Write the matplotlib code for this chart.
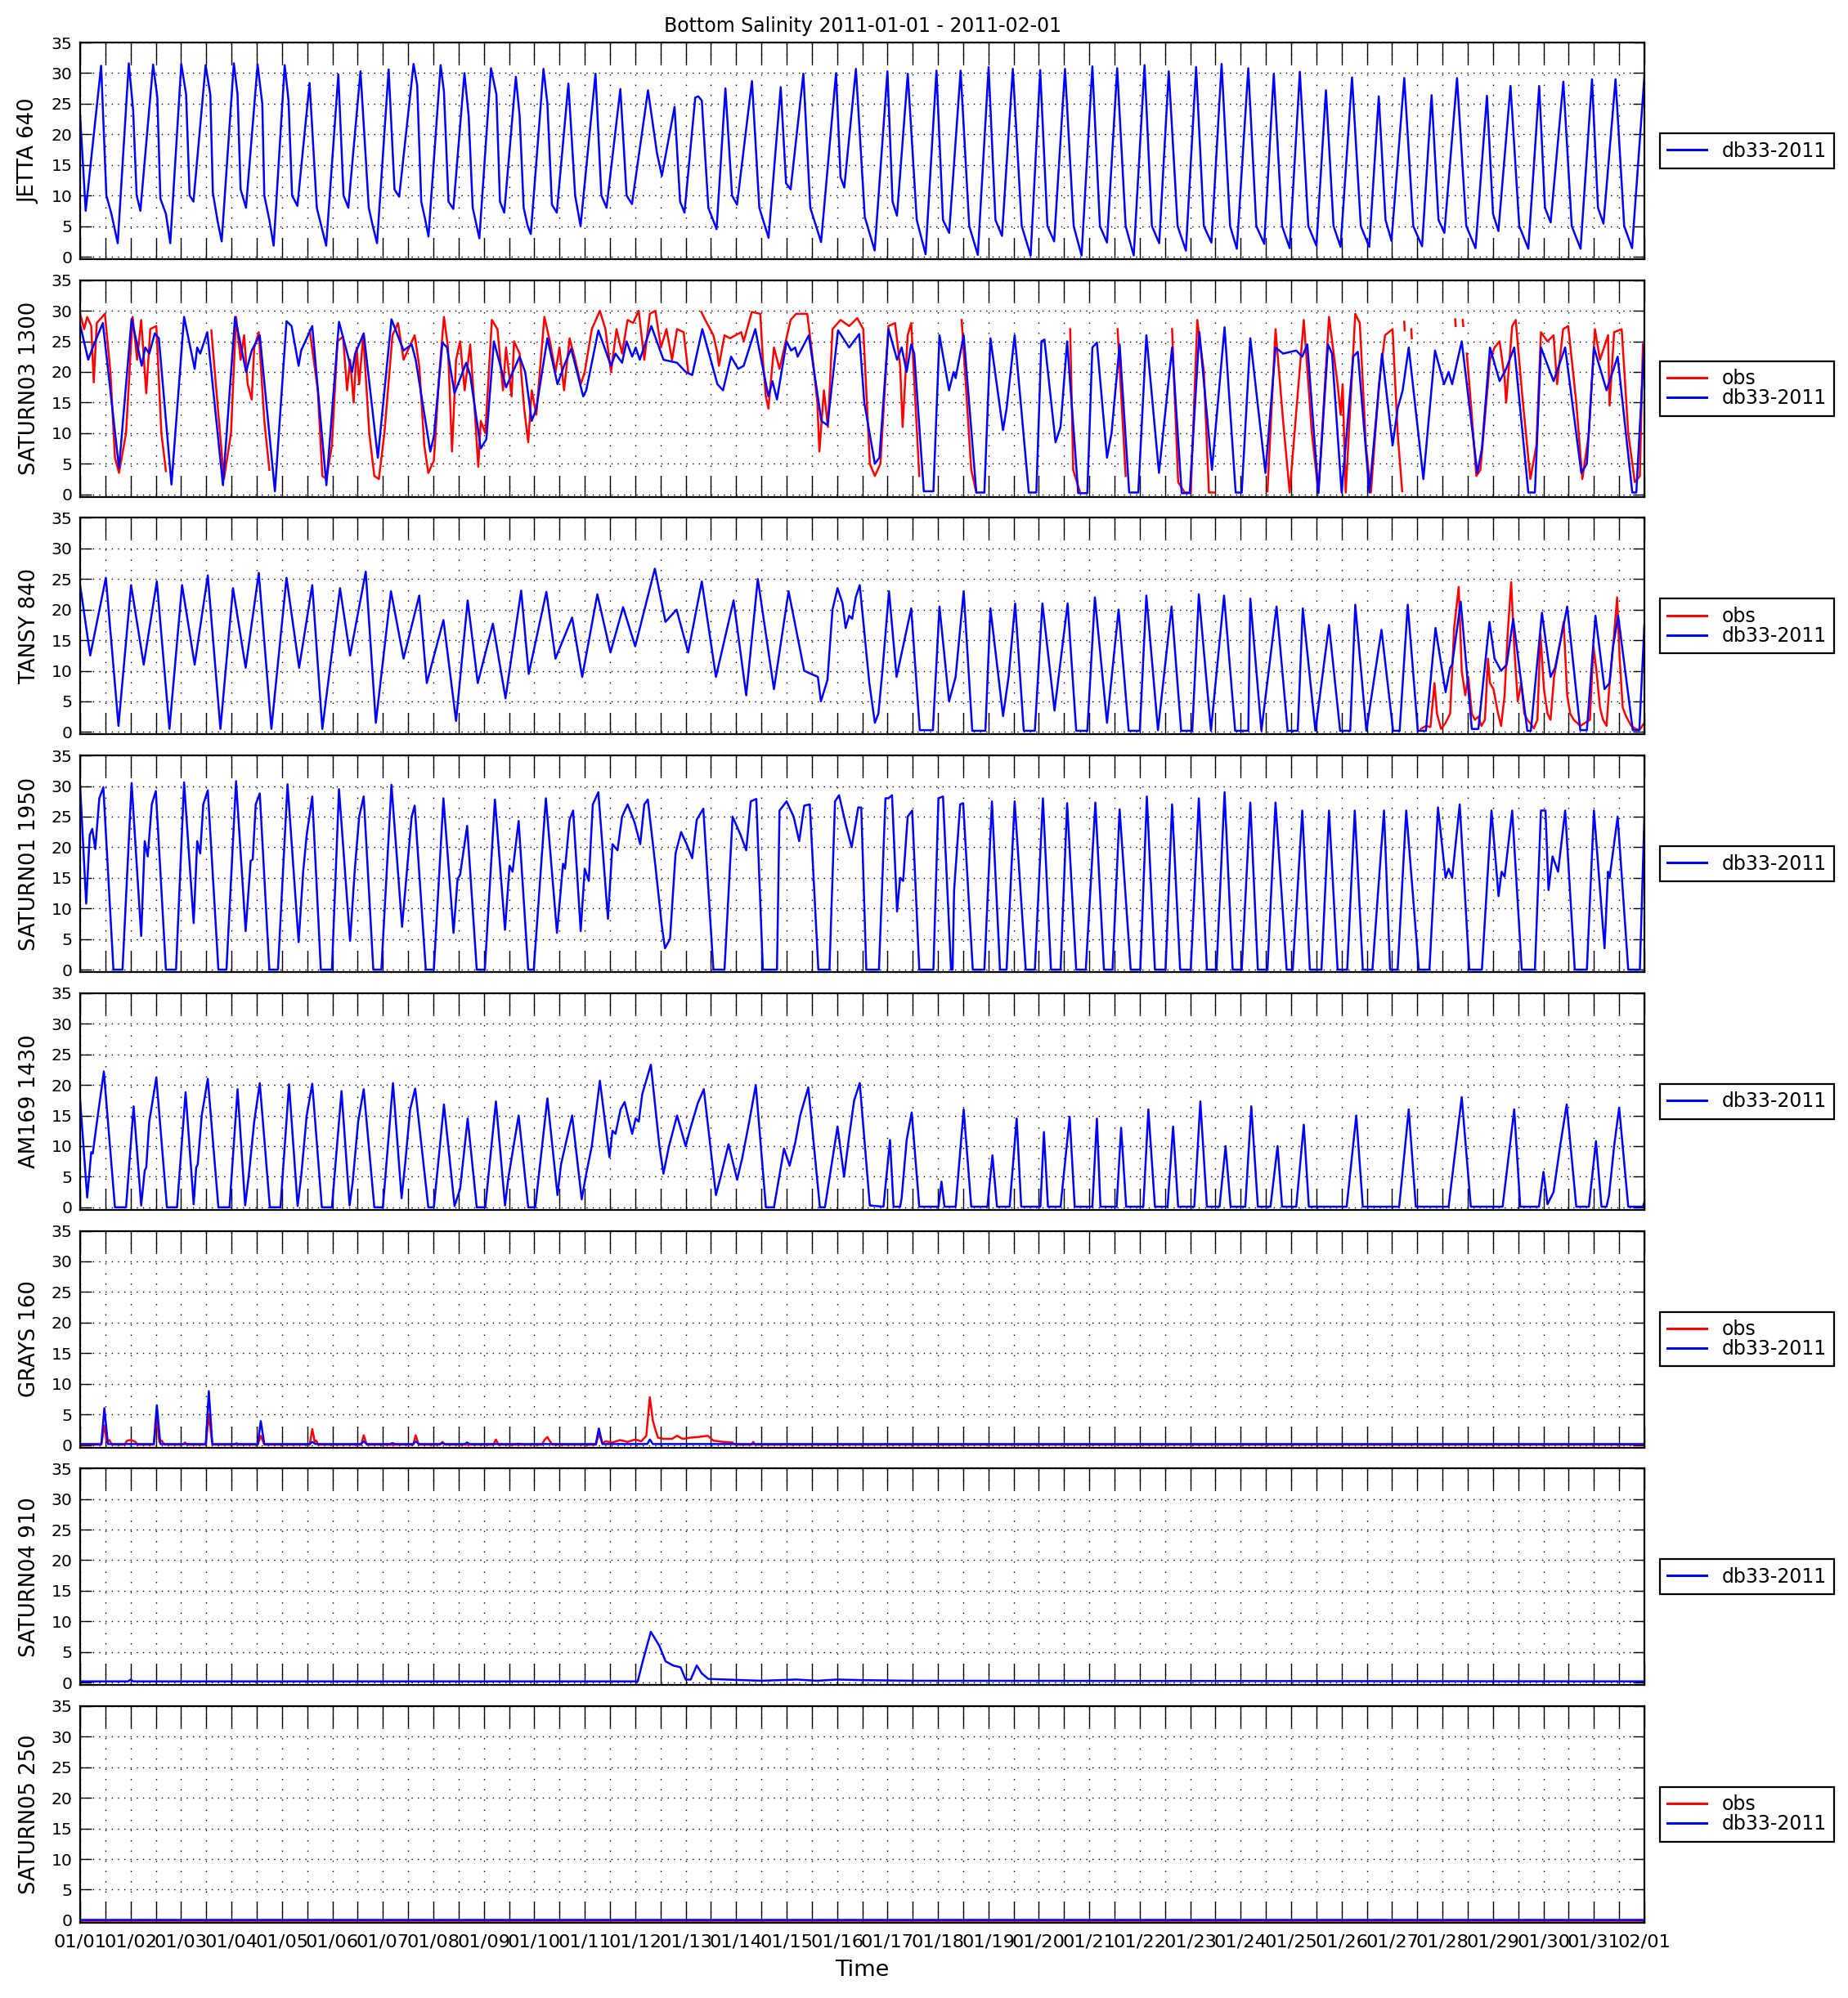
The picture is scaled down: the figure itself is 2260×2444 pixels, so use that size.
import numpy as np
import matplotlib
matplotlib.use("Agg")
import matplotlib.pyplot as plt

nan = np.nan

# ---------------- data (time in days since 2011-01-01 00:00, salinity in psu) -------------
day_labels = ["01/01", "01/02", "01/03", "01/04", "01/05", "01/06", "01/07", "01/08",
              "01/09", "01/10", "01/11", "01/12", "01/13", "01/14", "01/15", "01/16",
              "01/17", "01/18", "01/19", "01/20", "01/21", "01/22", "01/23", "01/24",
              "01/25", "01/26", "01/27", "01/28", "01/29", "01/30", "01/31", "02/01"]
yticks_vals = [0, 5, 10, 15, 20, 25, 30, 35]

station_names = ["JETTA 640", "SATURN03 1300", "TANSY 840", "SATURN01 1950",
                 "AM169 1430", "GRAYS 160", "SATURN04 910", "SATURN05 250"]

# JETTA 640 model
jetta_t = [0.0, 0.11, 0.416, 0.52, 0.62, 0.745, 0.964, 1.05, 1.12, 1.194, 1.446, 1.53, 1.59,
           1.70, 1.786, 2.005, 2.10, 2.17, 2.246, 2.487, 2.58, 2.63, 2.72, 2.805, 3.046, 3.12,
           3.18, 3.287, 3.517, 3.61, 3.65, 3.75, 3.835, 4.054, 4.13, 4.20, 4.306, 4.547, 4.69,
           4.78, 4.876, 5.117, 5.22, 5.315, 5.556, 5.72, 5.80, 5.884, 6.114, 6.23, 6.323, 6.608,
           6.68, 6.76, 6.84, 6.903, 7.144, 7.21, 7.30, 7.396, 7.616, 7.70, 7.78, 7.86, 7.912,
           8.142, 8.25, 8.32, 8.405, 8.635, 8.71, 8.79, 8.87, 8.931, 9.183, 9.26, 9.35, 9.446,
           9.676, 9.81, 9.917, 10.213, 10.33, 10.432, 10.706, 10.83, 10.936, 11.254, 11.43,
           11.528, 11.780, 11.89, 11.977, 12.19, 12.251, 12.32, 12.45, 12.613, 12.788, 12.92,
           13.018, 13.314, 13.46, 13.643, 13.884, 13.99, 14.081, 14.333, 14.47, 14.684, 14.980,
           15.07, 15.144, 15.374, 15.55, 15.746, 15.999, 16.10, 16.188, 16.402, 16.58, 16.755,
           16.970, 17.10, 17.222, 17.449, 17.62, 17.790, 18.004, 18.14, 18.269, 18.484, 18.66,
           18.837, 19.026, 19.17, 19.303, 19.518, 19.69, 19.846, 20.060, 20.21, 20.350, 20.552,
           20.72, 20.880, 21.094, 21.24, 21.385, 21.574, 21.75, 21.914, 22.116, 22.27, 22.419,
           22.621, 22.79, 22.923, 23.150, 23.31, 23.466, 23.655, 23.82, 23.970, 24.172, 24.34,
           24.500, 24.689, 24.84, 24.979, 25.206, 25.38, 25.547, 25.736, 25.87, 25.988, 26.241,
           26.42, 26.594, 26.783, 26.92, 27.036, 27.287, 27.47, 27.654, 27.880, 28.00, 28.107,
           28.347, 28.52, 28.700, 28.915, 29.03, 29.142, 29.394, 29.56, 29.735, 29.962, 30.08,
           30.189, 30.428, 30.60, 30.756, 31.0]
jetta_s = [23, 7.5, 31.2, 10, 7, 2.2, 31.6, 24, 10, 7.5, 31.4, 26, 9.5,
           7, 2.2, 31.5, 26.5, 10, 9, 31.3, 26.5, 10.5, 6, 2.5, 31.6, 26.5,
           11, 8, 31.4, 25, 10, 6, 1.8, 31.3, 25.5, 10, 8.3, 28.4, 8,
           5, 1.8, 29.8, 10, 8, 30.3, 8, 5, 2.2, 30.6, 11, 9.8, 31.5,
           28, 9, 6, 3.3, 31.3, 27, 9, 7.8, 30, 23, 8, 5, 3,
           30.8, 26.5, 9, 7.2, 29.4, 23, 8, 5, 3.7, 30.7, 25, 8.5, 7.2,
           28.3, 10, 5, 29.9, 10, 8, 27.4, 10, 8.6, 27.2, 17,
           13.2, 24.5, 9, 7.2, 26, 26.2, 25.5, 8, 4.5, 27.5, 10,
           8.5, 28.7, 8, 3.1, 27.7, 12, 11, 29.9, 8, 2.4, 30,
           13, 11.3, 30.7, 6.5, 1.0, 30.3, 9, 6.7, 29.9, 6, 0.4,
           30.4, 6, 3.9, 30.4, 5, 0.3, 31.0, 6, 3.4, 30.7, 5,
           0.2, 30.5, 5, 2.5, 30.7, 5, 0.2, 31.1, 5, 2.3, 30.8,
           5, 0.2, 31.3, 5, 2.2, 30.3, 5, 1.0, 31.0, 5, 2.3,
           31.5, 5, 1.3, 30.8, 5, 2.1, 29.9, 5, 1.4, 30.2, 5,
           1.8, 27.2, 5, 1.6, 29.3, 5, 1.6, 26.2, 6, 2.6, 29.2,
           5, 1.7, 26.4, 6, 3.9, 29.2, 5, 1.4, 26.3, 7, 4.2,
           27.9, 5, 1.3, 27.9, 8, 5.6, 28.6, 5, 1.3, 29.0, 8,
           5.4, 29.0, 5, 1.4, 29.5]

# SATURN03 1300 model
sat03_t = [0.0, 0.16, 0.25, 0.45, 0.77, 1.02, 1.22, 1.29, 1.37, 1.48, 1.56, 1.81, 2.06, 2.27,
           2.32, 2.38, 2.52, 2.83, 3.07, 3.29, 3.40, 3.56, 3.86, 4.09, 4.19, 4.33, 4.38, 4.60,
           4.88, 5.13, 5.39, 5.45, 5.62, 5.90, 6.17, 6.41, 6.57, 6.65, 6.94, 7.01, 7.18, 7.27,
           7.42, 7.65, 7.73, 7.94, 8.05, 8.20, 8.44, 8.71, 8.82, 8.95, 9.04, 9.26, 9.46, 9.59,
           9.73, 9.97, 10.03, 10.27, 10.52, 10.61, 10.74, 10.83, 10.94, 11.01, 11.09, 11.32,
           11.56, 11.83, 12.00, 12.13, 12.33, 12.63, 12.74, 12.90, 13.04, 13.15, 13.38, 13.64,
           13.72, 13.81, 14.00, 14.09, 14.17, 14.22, 14.44, 14.69, 14.81, 15.02, 15.24, 15.44,
           15.54, 15.75, 15.84, 16.02, 16.19, 16.28, 16.38, 16.47, 16.53, 16.72, 16.91, 17.03,
           17.22, 17.31, 17.35, 17.51, 17.76, 17.92, 18.04, 18.29, 18.36, 18.52, 18.80, 18.95,
           19.05, 19.11, 19.33, 19.43, 19.56, 19.78, 19.96, 20.06, 20.15, 20.35, 20.44, 20.60,
           20.79, 20.97, 21.13, 21.38, 21.64, 21.83, 21.99, 22.18, 22.43, 22.68, 22.90, 23.02,
           23.19, 23.49, 23.69, 23.84, 24.10, 24.22, 24.32, 24.54, 24.73, 24.81, 25.00, 25.23,
           25.32, 25.55, 25.80, 26.01, 26.11, 26.21, 26.33, 26.62, 26.85, 27.03, 27.12, 27.19,
           27.38, 27.69, 27.78, 27.94, 28.13, 28.26, 28.42, 28.70, 28.83, 28.95, 29.20, 29.43,
           29.75, 29.86, 30.00, 30.25, 30.47, 30.76, 30.84, 31.0]
sat03_s = [27.7, 22, 24, 28, 4.3, 28.7, 21, 24, 23, 26.3, 25.5, 1.6, 29, 20.5,
           24, 23, 26.5, 1.5, 29, 20, 23.5, 26, 0.5, 28.3, 27.5, 21, 23.5, 27.5,
           1.5, 28.2, 20, 23, 26.3, 6, 28.6, 23.5, 24.5, 22, 7, 9.5, 24.8, 24,
           16.5, 21.5, 19.5, 7.5, 9, 25, 17.5, 22.5, 20, 12, 14, 25.5, 18, 21,
           23.8, 16, 17, 26.8, 21, 23, 21.5, 25, 22.5, 24, 22, 27.5,
           22, 21.5, 20, 19.5, 27, 18, 17, 22.5, 20.5, 21, 27, 16,
           18.5, 15.5, 25, 23.5, 24, 22.5, 26, 12, 11.3, 26.8, 24, 26.2,
           15, 5, 6, 27, 22, 24, 20, 24.5, 23, 0.5, 0.5, 26,
           17, 20, 19, 26, 0.3, 0.3, 25.5, 10.5, 14, 26, 0.3, 0.3,
           25, 25.3, 8.5, 11, 25, 0.2, 0.2, 24, 24.8, 6, 10, 24.5,
           0.3, 0.3, 26, 3.5, 24, 0.2, 0.2, 26.5, 4, 27.3, 0.3, 0.3,
           25.5, 3.5, 24, 23, 23.5, 22.5, 24.5, 0.2, 24.5, 23, 0.3, 22.5,
           23.3, 0.3, 23, 8, 14, 17, 24, 2.5, 23.5, 18, 20, 18,
           25, 3.5, 7.5, 24, 18.5, 20.5, 24, 0.3, 0.3, 24, 18.5, 24,
           3.5, 5, 24, 17, 22.5, 0.3, 0.3, 25]

# SATURN03 1300 observations (nan = gap)
sat03_obs_t = [0.0, 0.08, 0.14, 0.22, 0.27, 0.33, 0.49, 0.60, 0.69, 0.77, 0.91, 1.04, 1.13,
               1.21, 1.28, 1.31, 1.39, 1.51, 1.61, 1.70, 1.71,
               2.59, 2.60, 2.72, 2.85, 2.99, 3.09, 3.18, 3.25, 3.32, 3.40, 3.45, 3.54, 3.65, 3.75, 3.76,
               4.54, 4.55, 4.71, 4.80, 4.88, 4.99, 5.10, 5.21, 5.29, 5.35, 5.42, 5.48, 5.53, 5.61,
               5.73, 5.83, 5.92, 6.03, 6.19, 6.30, 6.41, 6.52, 6.63, 6.72, 6.82, 6.90, 7.01, 7.12,
               7.21, 7.29, 7.37, 7.45, 7.53, 7.62, 7.73, 7.81, 7.89, 7.94, 8.03, 8.16, 8.27, 8.38,
               8.44, 8.55, 8.60, 8.71, 8.80, 8.88, 8.95, 9.04, 9.20, 9.31, 9.42, 9.50, 9.59, 9.70,
               9.81, 9.92, 10.00, 10.14, 10.30, 10.41, 10.52, 10.63, 10.74, 10.85, 10.96, 11.07,
               11.18, 11.29, 11.40, 11.51, 11.62, 11.73, 11.83, 11.96, 12.05, 12.06,
               12.30, 12.31, 12.42, 12.55, 12.63, 12.66, 12.77, 12.88, 13.10, 13.15, 13.31, 13.48,
               13.53, 13.59, 13.64, 13.75, 13.86, 14.08, 14.19, 14.41, 14.52, 14.61, 14.65, 14.74,
               14.82, 14.91, 15.07, 15.24, 15.40, 15.52, 15.65, 15.75, 15.86, 16.02, 16.15, 16.25,
               16.30, 16.40, 16.47, 16.63, 16.64,
               17.46, 17.47, 17.66, 17.76, 17.77,
               19.61, 19.62, 19.68, 19.81, 19.82,
               20.55, 20.56, 20.72, 20.73,
               21.63, 21.64, 21.76, 21.89, 22.01, 22.14, 22.27, 22.37, 22.48, 22.49,
               23.52, 23.53, 23.69, 23.84, 23.97, 24.25, 24.41, 24.54, 24.75, 24.92, 24.98, 25.02,
               25.08, 25.27, 25.36, 25.48, 25.58, 25.74, 25.86, 26.01, 26.11, 26.20, 26.21,
               26.24, 26.25, 26.26, 26.38, 26.39, 26.40, 27.25, 27.26, 27.27, 27.40, 27.41, 27.42,
               27.48, 27.56, 27.67, 27.75, 27.94, 28.03, 28.13, 28.23, 28.26, 28.38, 28.45, 28.57,
               28.74, 28.86, 28.95, 29.08, 29.20, 29.27, 29.39, 29.49, 29.65, 29.77, 29.90, 30.02,
               30.12, 30.28, 30.31, 30.40, 30.55, 30.68, 30.81, 30.91, 30.97]
sat03_obs_s = [29.5, 27, 29, 27.5, 18.3, 28, 29.5, 20, 6, 3.5, 10, 29, 22,
               28.5, 20, 16.5, 27, 27.5, 10, 3.8, nan,
               nan, 26.8, 15, 2.5, 10, 29, 22, 26, 18, 15.5, 24, 26.5, 12, 4, nan,
               nan, 26.8, 17, 3, 2.5, 8, 25, 25.8, 17, 22, 15, 24, 18, 26,
               10, 3, 2.5, 10, 26, 28, 22, 24, 26, 21, 8, 3.5, 5.5, 20,
               29, 24, 7, 22, 25, 17, 24.5, 15, 4.5, 12, 10, 28.5, 27, 17,
               24, 16, 25, 23, 14, 8.5, 17, 13, 29, 25, 20, 24, 17, 25.5,
               22, 18, 20, 27, 30, 27, 20, 27, 23, 28.5, 28, 30,
               22, 29.5, 30, 24, 27, 22, 27, 26.5, 20, nan,
               nan, 29.8, 28, 26, 23, 21, 26, 25.5, 26.5, 25, 29.8, 29.5,
               22, 16, 14, 24, 20.5, 28.5, 29.5, 29.5, 22, 15, 7, 17,
               11, 27, 28.5, 27.5, 28.8, 27, 5, 3, 5, 27.5, 28, 21,
               11, 26, 28, 3, nan,
               nan, 28.5, 4, 0.3, nan,
               nan, 27, 4, 0.5, nan,
               nan, 27, 3, nan,
               nan, 27, 2, 0.3, 0.3, 28.5, 20, 0.3, 0.3, nan,
               nan, 0.5, 27, 12, 0.3, 28.5, 10, 0.3, 29, 18, 13, 18,
               0.3, 29.5, 28, 8, 0.3, 18, 26, 27, 10, 0.5, nan,
               28.2, 26.8, nan, 27, 25.5, nan, 28.6, 27.5, nan, 28.5, 27.5, nan,
               23, 15, 3, 4, 22, 24, 25, 19, 15, 27.5, 28.5, 17,
               2.5, 8, 26.5, 25, 26, 18, 27, 27.5, 15, 2.5, 10, 27,
               22, 26, 14.5, 26.5, 27, 10, 2, 3, 24.5]

# TANSY 840 model
tansy_t = [0.0, 0.20, 0.51, 0.76, 1.01, 1.26, 1.52, 1.77, 2.02, 2.27, 2.53, 2.78, 3.03, 3.28,
           3.54, 3.79, 4.09, 4.34, 4.60, 4.80, 5.15, 5.35, 5.66, 5.86, 6.16, 6.41, 6.72, 6.87,
           7.20, 7.45, 7.68, 7.88, 8.18, 8.43, 8.74, 8.89, 9.24, 9.42, 9.75, 9.95, 10.25, 10.51,
           10.76, 11.0, 11.39, 11.60, 11.82, 12.05, 12.32, 12.60, 12.95, 13.20, 13.43, 13.75,
           14.04, 14.35, 14.62, 14.68, 14.81, 14.91, 15.01, 15.11, 15.17, 15.24, 15.30, 15.37,
           15.45, 15.64, 15.75, 15.82, 15.90, 16.03, 16.18, 16.47, 16.64, 16.90, 17.03, 17.22,
           17.35, 17.51, 17.68, 17.94, 18.04, 18.29, 18.40, 18.53, 18.70, 18.92, 19.07, 19.31,
           19.57, 19.74, 19.96, 20.11, 20.35, 20.58, 20.78, 21.00, 21.13, 21.36, 21.63, 21.82,
           22.04, 22.17, 22.41, 22.67, 22.89, 23.15, 23.19, 23.41, 23.71, 23.93, 24.13, 24.23,
           24.48, 24.75, 24.97, 25.17, 25.27, 25.49, 25.79, 26.02, 26.15, 26.31, 26.51, 26.67,
           26.86, 27.06, 27.15, 27.19, 27.36, 27.58, 27.71, 27.93, 28.03, 28.16, 28.27, 28.40,
           28.68, 28.75, 28.97, 29.14, 29.23, 29.40, 29.47, 29.73, 29.86, 30.03, 30.21, 30.31,
           30.38, 30.48, 30.77, 30.90, 31.0]
tansy_s = [24, 12.5, 25.2, 1, 24, 11, 24.6, 0.5, 24, 11, 25.6, 0.5, 23.5, 10.5,
           26, 0.5, 25.2, 10.5, 24, 0.5, 23.5, 12.5, 26.2, 1.5, 23, 12, 22.3, 8,
           18.3, 1.8, 21.5, 8, 17.7, 5.5, 23.1, 9.5, 22.9, 12, 18.7, 9, 22.5, 13,
           20.4, 14, 26.7, 18, 20, 13, 24.6, 9, 21.5, 6, 25, 7,
           23, 10, 9, 5, 8.5, 20, 23.5, 21, 17, 19, 18.5, 22,
           24, 8, 1.5, 3, 10, 23, 9, 20.2, 0.3, 0.3, 20.5, 5,
           9, 23, 0.2, 0.2, 20.2, 2.6, 9, 21, 0.2, 0.2, 21, 3.5,
           21, 0.2, 0.2, 22, 1.5, 20, 0.2, 0.2, 22.3, 0.3, 20.5, 0.2,
           0.2, 22.5, 0.2, 22.3, 0.2, 0.2, 21.8, 0.2, 20.5, 0.2, 0.2, 20.2,
           0.2, 17.5, 0.2, 0.2, 20.8, 0.2, 16.7, 0.2, 0.2, 20.8, 0.2, 0.2,
           17, 6.5, 10.5, 11, 21.3, 0.5, 0.5, 18, 12, 10, 11, 18.5,
           0.2, 0.2, 19.5, 9, 10.5, 17.5, 20.5, 0.3, 0.3, 19, 7, 8,
           14, 19, 0.3, 0.3, 17.5]

# TANSY 840 observations
tansy_obs_t = [26.57, 26.67, 26.76, 26.84, 26.89, 26.97, 27.06, 27.15, 27.23, 27.32, 27.38,
               27.45, 27.51, 27.58, 27.64, 27.71, 27.77, 27.84, 27.90, 27.94, 28.01, 28.10, 28.16,
               28.23, 28.29, 28.36, 28.42, 28.49, 28.56, 28.62, 28.68, 28.75, 28.81, 28.88, 28.94,
               29.01, 29.08, 29.14, 29.21, 29.40, 29.47, 29.53, 29.60, 29.73, 29.92, 29.99, 30.05,
               30.12, 30.18, 30.25, 30.31, 30.40, 30.46, 30.51, 30.57, 30.64, 30.74, 30.83, 30.90,
               31.0]
tansy_obs_s = [0.5, 1, 0.8, 8, 3, 0.5, 1.5, 3, 17, 23.7, 10,
               6, 9, 3, 2, 2.5, 1, 2, 12, 8, 7, 3, 1,
               6, 16, 24.5, 14, 5, 8, 3, 2, 1.3, 0.6, 2, 16,
               7, 3, 2, 9, 18, 6, 3, 2, 1, 2, 14, 10,
               4, 2, 1, 8, 16, 22, 12, 4, 2.5, 1, 0.5, 0.3,
               1.5]

# SATURN01 1950 model
sat01_t = [0.0, 0.12, 0.19, 0.24, 0.30, 0.38, 0.46, 0.66, 0.84, 1.02, 1.21, 1.28, 1.34, 1.42,
           1.50, 1.70, 1.90, 2.06, 2.25, 2.32, 2.38, 2.44, 2.53, 2.74, 2.90, 3.09, 3.28, 3.38,
           3.42, 3.48, 3.56, 3.75, 3.92, 4.11, 4.33, 4.42, 4.49, 4.60, 4.77, 4.99, 5.13, 5.35,
           5.44, 5.53, 5.62, 5.81, 5.97, 6.17, 6.38, 6.49, 6.57, 6.63, 6.85, 7.01, 7.20, 7.40,
           7.48, 7.53, 7.67, 7.86, 8.02, 8.22, 8.42, 8.51, 8.57, 8.69, 8.88, 8.99, 9.23, 9.45,
           9.57, 9.61, 9.70, 9.77, 9.92, 10.00, 10.08, 10.16, 10.27, 10.46, 10.55, 10.65, 10.74,
           10.85, 10.99, 11.10, 11.18, 11.25, 11.40, 11.53, 11.59, 11.69, 11.80, 11.91, 12.02,
           12.13, 12.22, 12.35, 12.55, 12.77, 12.93, 13.09, 13.20, 13.29, 13.40, 13.53, 13.81,
           13.86, 14.00, 14.14, 14.25, 14.35, 14.46, 14.63, 14.85, 14.96, 15.04, 15.18, 15.29,
           15.42, 15.48, 15.58, 15.83, 15.96, 16.02, 16.09, 16.19, 16.25, 16.31, 16.40, 16.49,
           16.63, 16.91, 17.01, 17.10, 17.26, 17.29, 17.32, 17.44, 17.50, 17.69, 17.92, 18.07,
           18.23, 18.36, 18.52, 18.74, 18.92, 19.08, 19.24, 19.43, 19.56, 19.74, 19.93, 20.12,
           20.29, 20.46, 20.60, 20.82, 21.01, 21.14, 21.30, 21.51, 21.64, 21.80, 22.01, 22.17,
           22.33, 22.52, 22.68, 22.84, 23.02, 23.19, 23.34, 23.53, 23.69, 23.91, 24.03, 24.22,
           24.37, 24.60, 24.75, 24.92, 25.11, 25.26, 25.42, 25.61, 25.84, 25.96, 26.11, 26.28,
           26.53, 26.74, 26.91, 27.06, 27.12, 27.19, 27.34, 27.53, 27.78, 27.97, 28.11, 28.17,
           28.23, 28.38, 28.57, 28.83, 28.95, 29.04, 29.10, 29.18, 29.29, 29.43, 29.62, 29.86,
           30.00, 30.21, 30.28, 30.31, 30.47, 30.68, 30.91, 31.0]
sat01_s = [30, 10.8, 22, 23, 19.7, 28, 29.8, 0, 0, 30.5, 5.5, 21, 18.5, 27,
           29.2, 0, 0, 30.6, 7.6, 21, 19, 27, 29.3, 0, 0, 30.8, 6.3, 17.8,
           18, 27, 28.8, 0, 0, 30.3, 4.5, 16, 22, 28.3, 0, 0, 29.5, 4.7,
           16, 25, 28.3, 0, 0, 30.2, 7, 17.5, 25, 26.8, 0, 0, 28, 6,
           14.8, 15.5, 23.5, 0, 0, 27.8, 6.5, 17, 16, 24.3, 0, 0, 28, 6,
           17.3, 16.5, 24.5, 26, 6.3, 16.5, 14.5, 27, 29, 8.3, 20.5, 19.5, 25,
           27, 24, 20.5, 27, 27.8, 17, 7, 3.5, 5, 19, 22.5, 20.5,
           18.2, 24.5, 26.3, 0, 0, 25, 22, 19.5, 27.5, 27.9, 0, 0,
           26, 27.5, 25, 21, 26.8, 27, 0, 0, 27.5, 28.5, 23.5, 20,
           26.5, 26.5, 0, 0, 28, 28, 28.5, 9.5, 15, 14.5, 25, 26,
           0, 0, 28, 28.3, 0, 0, 13, 27, 27.2, 0, 0, 27.5,
           0, 0, 27.5, 0, 0, 28, 0, 0, 27.2, 0, 0, 27.3,
           0, 0, 26.2, 0, 0, 28.3, 0, 0, 27, 0, 0, 28,
           0, 0, 29, 0, 0, 27.3, 0, 0, 27.3, 0, 0, 26,
           0, 0, 26, 0, 0, 26, 0, 0, 26, 0, 0, 26,
           0, 0, 26.5, 15, 16.5, 15, 27, 0, 0, 26, 12, 16,
           15.2, 26, 0, 0, 26, 26, 13, 18.5, 16, 26, 0, 0,
           26, 3.5, 16, 15, 25, 0, 0, 25]

# AM169 1430 model
am169_t = [0.0, 0.14, 0.22, 0.25, 0.35, 0.47, 0.69, 0.91, 1.06, 1.21, 1.28, 1.31, 1.37, 1.51,
           1.72, 1.92, 2.09, 2.25, 2.30, 2.33, 2.41, 2.53, 2.74, 2.96, 3.12, 3.27, 3.34, 3.45,
           3.56, 3.76, 3.97, 4.14, 4.31, 4.38, 4.49, 4.60, 4.79, 4.99, 5.18, 5.34, 5.40, 5.51,
           5.62, 5.83, 6.00, 6.20, 6.37, 6.44, 6.54, 6.64, 6.90, 7.01, 7.21, 7.42, 7.53, 7.68,
           7.86, 8.03, 8.24, 8.42, 8.49, 8.69, 8.88, 9.02, 9.26, 9.46, 9.53, 9.75, 9.94, 10.03,
           10.14, 10.30, 10.49, 10.55, 10.61, 10.71, 10.79, 10.94, 11.01, 11.07, 11.14, 11.31,
           11.48, 11.56, 11.67, 11.83, 12.00, 12.08, 12.24, 12.36, 12.60, 12.71, 12.85, 13.02,
           13.12, 13.26, 13.39, 13.59, 13.75, 13.95, 14.06, 14.17, 14.27, 14.43, 14.66, 14.76,
           15.01, 15.14, 15.23, 15.34, 15.45, 15.65, 15.92, 16.05, 16.12, 16.25, 16.28, 16.38,
           16.48, 16.63, 17.01, 17.07, 17.13, 17.35, 17.51, 17.66, 17.98, 18.08, 18.17, 18.42,
           18.56, 18.65, 19.03, 19.10, 19.18, 19.43, 19.61, 19.71, 20.06, 20.15, 20.22, 20.54,
           20.63, 20.73, 21.07, 21.17, 21.30, 21.55, 21.66, 21.76, 22.08, 22.20, 22.33, 22.58,
           22.70, 22.80, 23.09, 23.21, 23.34, 23.59, 23.73, 23.82, 24.10, 24.25, 24.35, 25.10,
           25.29, 25.42, 26.14, 26.33, 26.47, 27.12, 27.38, 27.56, 28.19, 28.42, 28.54, 28.91,
           29.00, 29.08, 29.20, 29.33, 29.46, 29.65, 29.90, 30.04, 30.15, 30.25, 30.30, 30.40,
           30.50, 30.68, 30.97, 31.0]
am169_s = [17.5, 1.6, 9, 8.8, 15, 22.2, 0, 0, 16.5, 0.3, 6, 6.5, 14, 21.2,
           0, 0, 18.8, 0.5, 6.5, 7, 15, 21, 0, 0, 19.3, 0.3, 5, 14,
           20.3, 0, 0, 20.1, 0.2, 5, 15, 20.2, 0, 0, 19, 0.3, 4, 14,
           19.3, 0, 0, 20.3, 1.5, 7, 16, 19.4, 0, 0, 16.8, 0.2, 3, 14.5,
           0, 0, 17.3, 0.3, 5, 15, 0, 0, 17.8, 2, 7, 15, 1.3, 5.5,
           10, 20.7, 8.2, 12.5, 12, 16, 17.2, 12, 14.5, 14, 18.5, 23.3,
           10, 5.5, 10, 15, 10, 12.5, 17, 19.3, 2, 5.5, 10.3, 4.5,
           8, 14, 20, 0, 0, 9.6, 6.8, 10.5, 15, 19.6, 0, 0,
           13.2, 5, 11, 17.5, 20.3, 0.3, 0.1, 11, 0.1, 0.1, 1.5, 11,
           15.5, 0.1, 0.1, 4.2, 0.1, 0.1, 16, 0.1, 0.1, 8.5, 0.1, 0.1,
           14.5, 0.1, 0.1, 12.3, 0.1, 0.1, 14.8, 0.1, 0.1, 14.5, 0.1, 0.1,
           13, 0.1, 0.1, 16, 0.1, 0.1, 13.2, 0.1, 0.1, 17.3, 0.1, 0.1,
           10, 0.1, 0.1, 16.5, 0.1, 0.1, 10, 0.1, 0.1, 13.5, 0.1, 0.1,
           15, 0.1, 0.1, 16, 0.1, 0.1, 18, 0.1, 0.1, 16, 0.1, 0.1,
           5.8, 0.5, 2.5, 10, 16.8, 0.1, 0.1, 10.8, 0.1, 0.1, 2, 10,
           16.3, 0.1, 0.1, 0.8]

# GRAYS 160 model and observations
grays_t = [0.0, 0.42, 0.48, 0.55, 1.46, 1.52, 1.59, 2.49, 2.55, 2.62, 3.52, 3.58, 3.65,
           4.55, 4.60, 4.66, 5.57, 5.62, 5.68, 6.14, 6.19, 6.24, 6.60, 6.65, 6.71, 7.13, 7.18,
           7.23, 7.62, 7.67, 7.72, 8.63, 8.68, 8.73, 10.22, 10.28, 10.35, 11.24, 11.29, 11.35,
           31.0]
grays_s = [0.15, 0.15, 6.0, 0.15, 0.15, 6.5, 0.15, 0.15, 8.8, 0.15, 0.15, 3.9, 0.15,
           0.15, 0.5, 0.15, 0.15, 0.6, 0.15, 0.15, 0.3, 0.15, 0.15, 0.6, 0.15, 0.15, 0.3,
           0.15, 0.15, 0.4, 0.15, 0.15, 0.2, 0.15, 0.15, 2.7, 0.15, 0.15, 0.9, 0.15,
           0.15]
grays_obs_t = [0.0, 0.42, 0.48, 0.53, 0.58, 0.63, 0.88, 0.93, 1.0, 1.08, 1.15, 1.46, 1.52,
               1.57, 1.62, 1.67, 2.03, 2.08, 2.13, 2.49, 2.55, 2.62, 3.06, 3.10, 3.14, 3.52,
               3.58, 3.65, 4.55, 4.60, 4.65, 4.68, 4.72, 5.57, 5.62, 5.68, 6.60, 6.65, 6.71,
               7.13, 7.18, 7.23, 8.19, 8.24, 8.29, 9.15, 9.20, 9.26, 9.31, 9.36, 10.22, 10.28,
               10.35, 10.41, 10.55, 10.70, 10.85, 11.0, 11.12, 11.22, 11.29, 11.35, 11.40,
               11.45, 11.56, 11.73, 11.83, 11.94, 12.10, 12.25, 12.44, 12.55, 12.75, 12.93,
               12.98, 13.30, 13.34, 13.38, 31.0]
grays_obs_s = [0.05, 0.05, 3.2, 0.5, 0.8, 0.05, 0.05, 0.7, 0.8, 0.6, 0.05, 0.05, 4.5,
               0.5, 0.7, 0.05, 0.05, 0.4, 0.05, 0.05, 5.0, 0.05, 0.05, 0.3, 0.05, 0.05,
               1.5, 0.05, 0.05, 2.6, 0.5, 0.7, 0.05, 0.05, 1.6, 0.05, 0.05, 1.6, 0.05,
               0.05, 0.5, 0.05, 0.05, 0.9, 0.05, 0.05, 0.8, 1.3, 0.6, 0.05, 0.05, 1.8,
               0.3, 0.6, 0.4, 0.8, 0.5, 0.9, 0.6, 1.5, 7.8, 4.0, 2.5,
               1.2, 1.0, 1.0, 1.5, 1.0, 1.2, 1.3, 1.5, 0.7, 0.5, 0.4,
               0.05, 0.05, 0.5, 0.05, 0.05]

# SATURN04 910 model
sat04_t = [0.0, 0.95, 1.0, 1.05, 11.05, 11.15, 11.31, 11.48, 11.6, 11.75, 11.9, 12.0, 12.1,
           12.22, 12.32, 12.45, 12.8, 13.5, 14.2, 14.6, 15.0, 15.5, 16.5, 31.0]
sat04_s = [0.2, 0.2, 0.5, 0.2, 0.2, 3.5, 8.3, 6.0, 3.5, 2.8, 2.5, 0.5, 0.5,
           2.8, 1.5, 0.6, 0.5, 0.3, 0.5, 0.3, 0.5, 0.4, 0.3, 0.2]

# SATURN05 250 model and observations
sat05_t = [0.0, 31.0]
sat05_s = [0.1, 0.1]
sat05_obs_t = [0.0, 31.0]
sat05_obs_s = [0.05, 0.05]

model_series = [(jetta_t, jetta_s), (sat03_t, sat03_s), (tansy_t, tansy_s), (sat01_t, sat01_s),
                (am169_t, am169_s), (grays_t, grays_s), (sat04_t, sat04_s), (sat05_t, sat05_s)]
obs_series = [None, (sat03_obs_t, sat03_obs_s), (tansy_obs_t, tansy_obs_s), None, None,
              (grays_obs_t, grays_obs_s), None, (sat05_obs_t, sat05_obs_s)]

# ---------------- figure ----------------
W, H = 2260, 2444
DPI = 100
fig = plt.figure(figsize=(W / DPI, H / DPI), dpi=DPI)
plt.rcParams['font.family'] = ['DejaVu Sans']

ax_left_px, ax_right_px = 98, 2011
ax_h_px = 265
ax_top0 = 52
ax_step = 290.7

axes = []
for i in range(8):
    top = ax_top0 + i * ax_step
    ax = fig.add_axes([ax_left_px / W, 1 - (top + ax_h_px) / H,
                       (ax_right_px - ax_left_px) / W, ax_h_px / H])
    axes.append(ax)

for i, ax in enumerate(axes):
    if obs_series[i] is not None:
        ot, os_ = obs_series[i]
        ax.plot(ot, os_, color='#ff0000', lw=1.8, label='obs')
    mt, ms = model_series[i]
    ax.plot(mt, ms, color='#0000ff', lw=1.8, label='db33-2011')

    ax.set_xlim(0, 31)
    ax.set_ylim(-0.4, 35)
    ax.set_yticks(yticks_vals)
    ax.set_xticks(np.arange(len(day_labels)))
    ax.set_xticks(np.arange(len(day_labels) - 1) + 0.5, minor=True)
    if i == 7:
        ax.set_xticklabels(day_labels)
        ax.set_xlabel('Time', fontsize=19.5, labelpad=8)
    else:
        ax.set_xticklabels([])
    ax.tick_params(axis='x', which='both', direction='in', length=19, width=1.0,
                   top=True, bottom=True, labelsize=16.2, pad=10)
    ax.tick_params(axis='y', which='major', direction='in', length=10, width=1.0,
                   left=True, right=True, labelsize=14.7, pad=7)
    ax.grid(True, axis='x', which='both', color='black', linestyle=(0, (1, 8)), linewidth=1.0)
    ax.grid(True, axis='y', which='major', color='black', linestyle=(0, (1, 4.5)), linewidth=1.0)
    for sp in ax.spines.values():
        sp.set_linewidth(1.6)
    ax.set_ylabel(station_names[i], fontsize=18.6, labelpad=10)
    leg = ax.legend(loc='center left', bbox_to_anchor=(1 + 19 / 1913, 0.5), borderaxespad=0,
                    fontsize=17, labelspacing=0.0, handlelength=2.0, handletextpad=0.8,
                    borderpad=0.4, fancybox=False, framealpha=1)
    leg.get_frame().set_edgecolor('black')
    leg.get_frame().set_linewidth(1.6)
    for ln in leg.get_lines():
        ln.set_linewidth(2.2)

axes[0].set_title('Bottom Salinity 2011-01-01 - 2011-02-01', fontsize=17, pad=9)

fig.savefig('out.png', dpi=DPI)
